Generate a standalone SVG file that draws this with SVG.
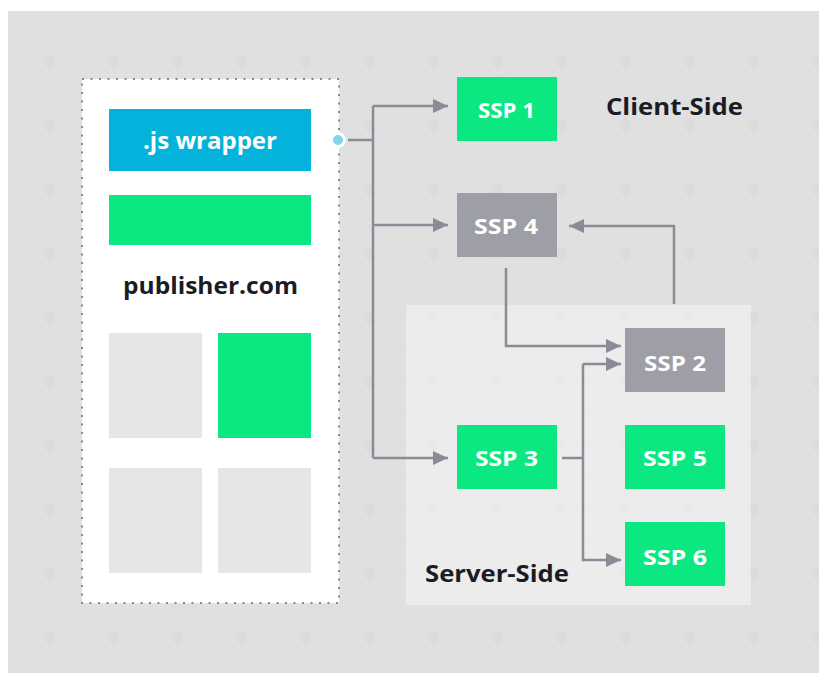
<svg xmlns="http://www.w3.org/2000/svg" width="819" height="673" viewBox="0 0 819 673">
  <style>
    .lbl { font-family: "Open Sans", "Liberation Sans", sans-serif; font-weight: 700; text-anchor: middle; dominant-baseline: central; }
    .ssp { fill: #ffffff; font-size: 22px; }
    .dark { fill: #1b1b26; font-size: 23px; }
    .green { fill: #0be882; }
    .gray { fill: #9e9ea6; }
    .slot { fill: #e6e6e6; }
    .conn { fill: none; stroke: #8b8a96; stroke-width: 2.5; }
  </style>
  <defs>
    <pattern id="grid" patternUnits="userSpaceOnUse" x="49" y="61" width="64" height="64">
      <path d="M0 0 H64 M0 0 V64" stroke="#d9d9d9" stroke-width="2" stroke-dasharray="2 5" fill="none"/>
      <path d="M0 0 L64 64" stroke="#dddddd" stroke-width="1" stroke-dasharray="2 6" fill="none"/>
      <circle cx="0" cy="0" r="6" fill="#dadada"/>
      <circle cx="64" cy="0" r="6" fill="#dadada"/>
      <circle cx="0" cy="64" r="6" fill="#dadada"/>
      <circle cx="64" cy="64" r="6" fill="#dadada"/>
    </pattern>
    <marker id="arr" markerUnits="userSpaceOnUse" markerWidth="16" markerHeight="14" refX="15" refY="7" orient="auto">
      <path d="M0 0 L15 7 L0 14 Z" fill="#8b8a96"/>
    </marker>
  </defs>

  <rect x="0" y="0" width="819" height="673" fill="#ffffff"/>
  <rect x="8" y="11" width="811" height="662" fill="#e0e0e0"/>
  <rect x="8" y="11" width="811" height="662" fill="url(#grid)" opacity="0.8"/>

  <g id="server-side-panel">
    <rect x="406" y="305" width="345" height="300" fill="#ffffff" fill-opacity="0.4"/>
    <text class="lbl dark" x="497" y="573" textLength="144" lengthAdjust="spacingAndGlyphs">Server-Side</text>
  </g>

  <g id="client-side-label">
    <text class="lbl dark" x="674.5" y="106" textLength="137" lengthAdjust="spacingAndGlyphs">Client-Side</text>
  </g>

  <g id="publisher">
    <rect x="82" y="79" width="257" height="524" fill="#ffffff" stroke="#888890" stroke-width="2" stroke-dasharray="2 6.5"/>
    <g id="js-wrapper">
      <rect x="109" y="109" width="202" height="62" fill="#04b3db"/>
      <text class="lbl" x="210" y="140" fill="#ffffff" font-size="23" textLength="134" lengthAdjust="spacingAndGlyphs">.js wrapper</text>
    </g>
    <rect class="green" x="109" y="195" width="202" height="50"/>
    <text class="lbl dark" x="210.5" y="285" font-size="24" textLength="175" lengthAdjust="spacingAndGlyphs">publisher.com</text>
    <rect class="slot" x="109" y="333" width="93" height="105"/>
    <rect class="green" x="218" y="333" width="93" height="105"/>
    <rect class="slot" x="109" y="468" width="93" height="105"/>
    <rect class="slot" x="218" y="468" width="93" height="105"/>
  </g>

  <g id="connectors">
    <path class="conn" d="M348 140 H373"/>
    <path class="conn" d="M373 106 V458"/>
    <path class="conn" d="M373 106 H448" marker-end="url(#arr)"/>
    <path class="conn" d="M373 225 H448" marker-end="url(#arr)"/>
    <path class="conn" d="M373 458 H448" marker-end="url(#arr)"/>
    <path class="conn" d="M674 304 V226 H569" marker-end="url(#arr)"/>
    <path class="conn" d="M506 268 V346 H621" marker-end="url(#arr)"/>
    <path class="conn" d="M562 458 H583"/>
    <path class="conn" d="M583 364 V560 H621" marker-end="url(#arr)"/>
    <path class="conn" d="M583 364 H621" marker-end="url(#arr)"/>
    <circle cx="338" cy="140" r="6.5" fill="#7fd5ea" stroke="#ffffff" stroke-width="3"/>
  </g>

  <g id="ssp1">
    <rect class="green" x="457" y="77" width="100" height="64"/>
    <text class="lbl ssp" x="506.5" y="109" textLength="57" lengthAdjust="spacingAndGlyphs">SSP 1</text>
  </g>
  <g id="ssp4">
    <rect class="gray" x="457" y="193" width="100" height="64"/>
    <text class="lbl ssp" x="506" y="225" textLength="64" lengthAdjust="spacingAndGlyphs">SSP 4</text>
  </g>
  <g id="ssp2">
    <rect class="gray" x="625" y="328" width="100" height="64"/>
    <text class="lbl ssp" x="675" y="362" textLength="62" lengthAdjust="spacingAndGlyphs">SSP 2</text>
  </g>
  <g id="ssp3">
    <rect class="green" x="457" y="425" width="100" height="64"/>
    <text class="lbl ssp" x="506.5" y="457" textLength="63" lengthAdjust="spacingAndGlyphs">SSP 3</text>
  </g>
  <g id="ssp5">
    <rect class="green" x="625" y="425" width="100" height="64"/>
    <text class="lbl ssp" x="675" y="457" textLength="64" lengthAdjust="spacingAndGlyphs">SSP 5</text>
  </g>
  <g id="ssp6">
    <rect class="green" x="625" y="522" width="100" height="64"/>
    <text class="lbl ssp" x="675" y="556" textLength="64" lengthAdjust="spacingAndGlyphs">SSP 6</text>
  </g>
</svg>
